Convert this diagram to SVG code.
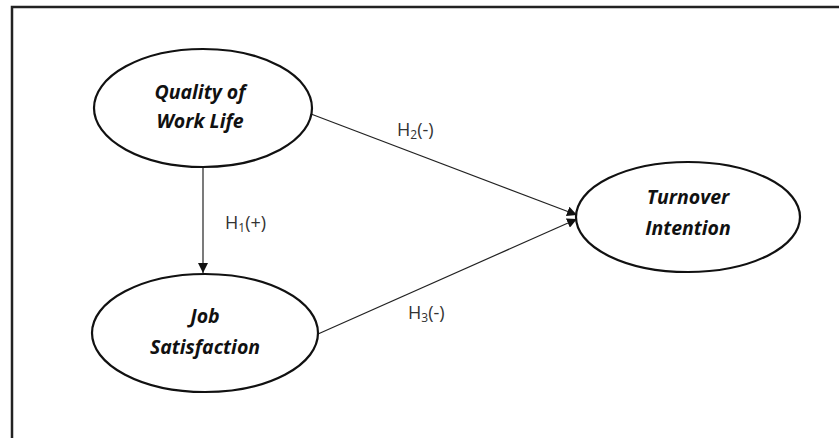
<svg xmlns="http://www.w3.org/2000/svg" width="839" height="438" viewBox="0 0 839 438">
<style>
.node{fill:#fff;stroke:#111;stroke-width:2.2}
.nt{font-family:"Open Sans","Liberation Sans",sans-serif;font-weight:bold;font-style:italic;font-size:19.5px;fill:#111;text-anchor:middle}
.lbl{font-family:"Open Sans","Liberation Sans",sans-serif;font-size:18px;fill:#333}
.sub{font-size:12px}
.edge{stroke:#222;stroke-width:1.2;fill:none;marker-end:url(#arr)}
</style>
<defs>
<marker id="arr" viewBox="0 0 10 10" refX="10" refY="5" markerWidth="10" markerHeight="10" markerUnits="userSpaceOnUse" orient="auto">
<path d="M0,0 L10,5 L0,10 z" fill="#111"/>
</marker>
</defs>
<rect width="839" height="438" fill="#fff"/>
<path d="M12,438 L12,7 L839,7" fill="none" stroke="#222" stroke-width="2.5"/>
<g id="connectors">
<line class="edge" x1="203" y1="167" x2="203" y2="273"/>
<line class="edge" x1="311" y1="114" x2="577" y2="215"/>
<line class="edge" x1="318" y1="334" x2="577" y2="219"/>
<text class="lbl" x="225" y="229">H<tspan class="sub" dy="3">1</tspan><tspan dy="-3">(+)</tspan></text>
<text class="lbl" x="397" y="136">H<tspan class="sub" dy="3">2</tspan><tspan dy="-3">(-)</tspan></text>
<text class="lbl" x="408" y="319">H<tspan class="sub" dy="3">3</tspan><tspan dy="-3">(-)</tspan></text>
</g>
<g id="qwl">
<ellipse class="node" cx="203" cy="108" rx="109" ry="59"/>
<text class="nt" x="200" y="99">Quality of</text>
<text class="nt" x="200" y="128">Work Life</text>
</g>
<g id="js">
<ellipse class="node" cx="205" cy="333" rx="113" ry="59"/>
<text class="nt" x="205" y="323">Job</text>
<text class="nt" x="205" y="354">Satisfaction</text>
</g>
<g id="ti">
<ellipse class="node" cx="688" cy="217" rx="112" ry="55"/>
<text class="nt" x="688" y="204">Turnover</text>
<text class="nt" x="688" y="235">Intention</text>
</g>
</svg>
